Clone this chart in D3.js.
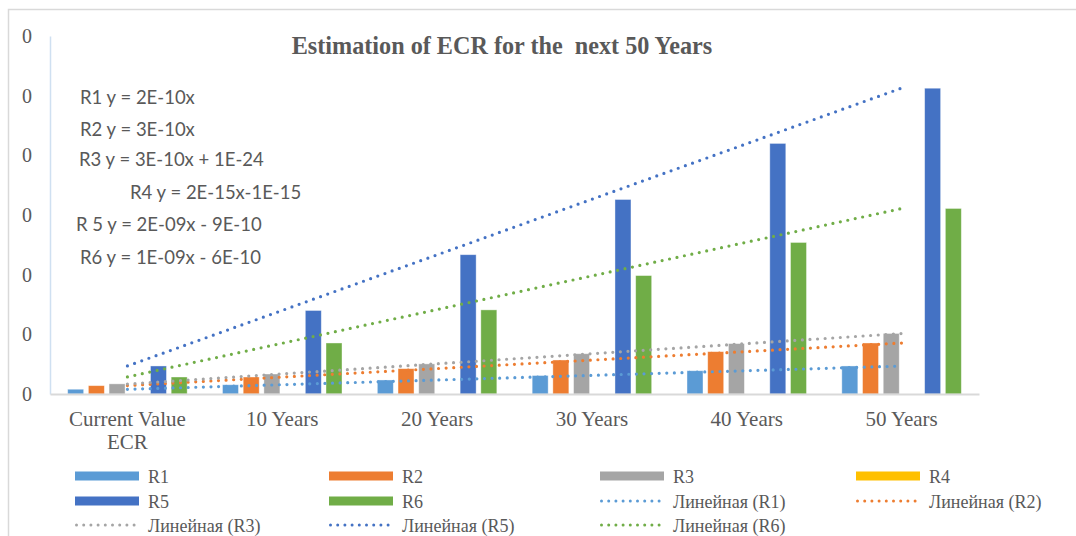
<!DOCTYPE html>
<html lang="en">
<head>
<meta charset="UTF-8">
<title>Estimation of ECR</title>
<script src="https://cdn.jsdelivr.net/npm/d3@7/dist/d3.min.js"></script>
<style>
  body { margin: 0; background: #fff; }
  text { fill: #595959; }
</style>
</head>
<body>
<svg width="1076" height="536" id="mainsvg"></svg>
<script>
  // data
  const categories = ['Current Value ECR', '10 Years', '20 Years', '30 Years', '40 Years', '50 Years'];
  const seriesNames = ['R1', 'R2', 'R3', 'R4', 'R5', 'R6'];
  const r1 = [1.6e-10, 3.1e-10, 4.7e-10, 6.2e-10, 7.8e-10, 9.4e-10];
  const r2 = [2.8e-10, 5.7e-10, 8.5e-10, 1.14e-9, 1.42e-9, 1.71e-9];
  const r3 = [3.4e-10, 6.7e-10, 1.01e-9, 1.35e-9, 1.69e-9, 2.03e-9];
  const r4 = [1e-15, 3e-15, 5e-15, 7e-15, 9e-15, 1.1e-14];
  const r5 = [9.4e-10, 2.80e-9, 4.67e-9, 6.52e-9, 8.40e-9, 1.025e-8];
  const r6 = [5.7e-10, 1.71e-9, 2.82e-9, 3.97e-9, 5.08e-9, 6.22e-9];
  const yTicks = [0, 2e-9, 4e-9, 6e-9, 8e-9, 1e-8, 1.2e-8];
  const trendOf = ['R1', 'R2', 'R3', 'R5', 'R6'];
  const equations = ['R1 y = 2E-10x', 'R2 y = 3E-10x', 'R3 y = 3E-10x + 1E-24',
                     'R4 y = 2E-15x-1E-15', 'R 5 y = 2E-09x - 9E-10', 'R6 y = 1E-09x - 6E-10'];

  const values = { R1: r1, R2: r2, R3: r3, R4: r4, R5: r5, R6: r6 };
  const colors = { R1: '#5b9bd5', R2: '#ed7d31', R3: '#a5a5a5', R4: '#ffc000', R5: '#4472c4', R6: '#70ad47' };

  const svg = d3.select('#mainsvg');
  const serif = '"Liberation Serif", "Times New Roman", serif';
  const plot = { left: 50, right: 979, top: 36, bottom: 394 };

  // outer chart frame
  svg.append('path')
    .attr('d', 'M8.5,536 V9.5 H1076')
    .attr('fill', 'none')
    .attr('stroke', '#d9d9d9')
    .attr('stroke-width', 1.5);

  const x = d3.scaleBand().domain(categories).range([plot.left, plot.right]);
  const xs = d3.scaleBand().domain(seriesNames)
    .range([0, x.bandwidth()])
    .paddingInner(0.227).paddingOuter(0.853);
  const y = d3.scaleLinear().domain([0, 1.2e-8]).range([plot.bottom, plot.top]);

  // y axis: labels all round to 0
  const yAxis = d3.axisLeft(y).tickValues(yTicks).tickFormat(() => '0').tickSize(0).tickPadding(18);
  const gy = svg.append('g').attr('transform', `translate(${plot.left},0)`).call(yAxis);
  gy.select('.domain').attr('stroke', '#cfe0f1').attr('stroke-width', 1.5);
  gy.selectAll('text').attr('font-family', serif).attr('font-size', 20).attr('fill', '#595959');

  // bars
  const groups = svg.append('g').selectAll('g').data(categories).join('g')
    .attr('transform', d => `translate(${x(d)},0)`);
  groups.selectAll('rect')
    .data((c, i) => seriesNames.map(s => ({ s, v: values[s][i] })))
    .join('rect')
    .attr('x', d => xs(d.s))
    .attr('width', xs.bandwidth())
    .attr('y', d => y(d.v))
    .attr('height', d => y(0) - y(d.v))
    .attr('fill', d => colors[d.s])
    .attr('stroke', '#fff')
    .attr('stroke-opacity', 0.5)
    .attr('stroke-width', 0.8);

  // x axis
  const xAxis = d3.axisBottom(x).tickSize(0).tickPadding(0);
  const gx = svg.append('g').attr('transform', `translate(0,${plot.bottom})`).call(xAxis);
  gx.select('.domain').attr('stroke', '#d9d9d9').attr('stroke-width', 2);
  gx.selectAll('text').attr('font-family', serif).attr('font-size', 21).attr('fill', '#595959')
    .attr('dy', null).attr('y', 32)
    .each(function(d) {
      // wrap long labels onto two lines
      const t = d3.select(this);
      const words = d.split(' ');
      t.text(null);
      let line = [], tspan = t.append('tspan').attr('x', 0);
      words.forEach(w => {
        line.push(w);
        tspan.text(line.join(' '));
        if (tspan.node().getComputedTextLength() > x.bandwidth() - 10 && line.length > 1) {
          line.pop();
          tspan.text(line.join(' '));
          line = [w];
          tspan = t.append('tspan').attr('x', 0).attr('dy', 23).text(w);
        }
      });
    });

  // linear trend lines (least squares over category index 1..6)
  function fit(vals) {
    const idx = vals.map((v, i) => i + 1);
    const mx = d3.mean(idx), my = d3.mean(vals);
    const b = d3.sum(idx, (xi, i) => (xi - mx) * (vals[i] - my)) / d3.sum(idx, xi => (xi - mx) ** 2);
    return xi => my + b * (xi - mx);
  }
  const center = i => x(categories[i]) + x.bandwidth() / 2;
  const trendG = svg.append('g');
  trendOf.forEach(s => {
    const f = fit(values[s]);
    const n = categories.length;
    trendG.append('line')
      .attr('x1', center(0)).attr('y1', y(f(1)))
      .attr('x2', center(n - 1)).attr('y2', y(f(n)))
      .attr('stroke', colors[s])
      .attr('stroke-width', 3.2)
      .attr('stroke-linecap', 'round')
      .attr('stroke-dasharray', '0 7.6');
  });

  // title
  svg.append('text')
    .attr('x', 502).attr('y', 54)
    .attr('text-anchor', 'middle')
    .attr('font-family', serif).attr('font-weight', 'bold').attr('font-size', 24.2)
    .attr('fill', '#595959')
    .style('white-space', 'pre')
    .text('Estimation of ECR for the  next 50 Years');

  // trendline equations
  const eqX = [80, 80, 79, 130, 76, 80];
  const eqY = [104, 136, 166, 199, 231, 264];
  svg.append('g').selectAll('text').data(equations).join('text')
    .attr('x', (d, i) => eqX[i]).attr('y', (d, i) => eqY[i])
    .attr('font-family', 'Lato, "Open Sans", sans-serif').attr('font-size', 18.5)
    .attr('fill', (d, i) => i === 3 ? '#262626' : '#595959')
    .text(d => d);

  // legend
  const legendItems = seriesNames.map(s => ({ label: s, s, type: 'bar' }))
    .concat(trendOf.map(s => ({ label: `Линейная (${s})`, s, type: 'trend' })));
  const colX = [75, 329, 600, 856];
  const rowY = [476, 501, 525];
  const lg = svg.append('g').selectAll('g').data(legendItems).join('g')
    .attr('transform', (d, i) => `translate(${colX[i % 4]},${rowY[Math.floor(i / 4)]})`);
  lg.filter(d => d.type === 'bar').append('rect')
    .attr('x', 0).attr('y', -4.5).attr('width', 64).attr('height', 9)
    .attr('fill', d => colors[d.s]);
  lg.filter(d => d.type === 'trend').append('line')
    .attr('x1', 1.5).attr('x2', 64).attr('y1', 0).attr('y2', 0)
    .attr('stroke', d => colors[d.s])
    .attr('stroke-width', 3)
    .attr('stroke-linecap', 'round')
    .attr('stroke-dasharray', '0 7.2');
  lg.append('text')
    .attr('x', 73).attr('y', 6.5)
    .attr('font-family', serif).attr('font-size', 18)
    .attr('fill', '#595959')
    .text(d => d.label);
</script>
</body>
</html>
